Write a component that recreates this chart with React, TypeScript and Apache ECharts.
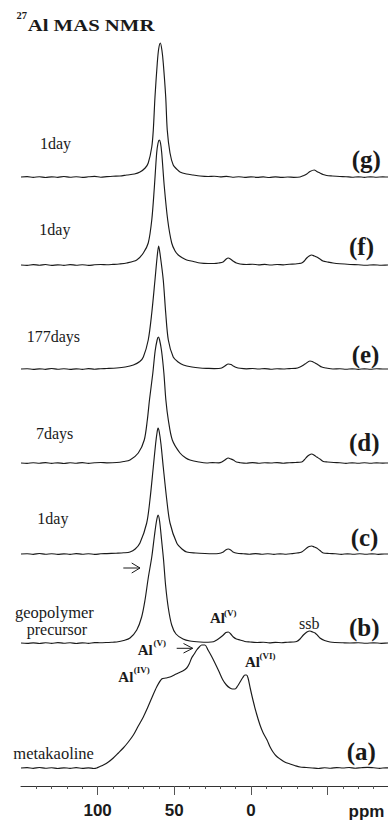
import React, { useEffect, useRef } from "react";
import * as echarts from "echarts";

// x axis (ppm)
const ppmMin = -100;
const ppmMax = 150;
const labelTicks = [100, 50, 0];
const majorTicks = [100, 50, 0, -50];

// vertical offsets of each trace (baseline level)
const offsets = { a: 18, b: 143, c: 232, d: 323, e: 417, f: 521, g: 609 };

// spectra: [ppm, intensity above own baseline]
const specG = [[150,0],[146,0.4],[142,-0.4],[138,0.3],[134,-0.5],[130,0.2],[126,-0.3],[122,0.5],[118,-0.2],[114,0.3],[110,-0.4],[106,0.2],[102,0.6],[98,-0.2],[94,0.4],[90,0.8],[85.4,1],[81,2],[76,3],[72.4,5],[69,9],[67,14],[64.7,30],[63.7,47],[62.6,80],[61.1,114],[60.2,128],[59.1,134],[58.1,127],[57.2,114],[55.6,80],[54.6,47],[52.8,24],[50.7,12],[48.5,8],[46.3,5],[42,3],[37.8,2],[33.2,1],[28,0.5],[24,0.8],[20,0.2],[16,0.6],[12,-0.2],[8,0.3],[4,-0.4],[0,0.2],[-4,-0.3],[-8,0.1],[-12,-0.5],[-16,0.2],[-20,-0.4],[-24,0],[-28,-0.3],[-32,0],[-34.5,1.5],[-36.4,3],[-38.5,5.5],[-41.3,7],[-43,5.5],[-45,4],[-47,2.5],[-49.4,1.5],[-53,1],[-58,0.5],[-62,0.3],[-66,-0.2],[-70,0.2],[-74,-0.3],[-78,0.2],[-82,-0.2],[-86,0.1],[-90,0],[-100,0]];

const specF = [[150,0],[146,-0.3],[142,0.4],[138,-0.2],[134,0.5],[130,-0.4],[126,0.2],[122,-0.3],[118,0.4],[114,-0.2],[110,0.3],[106,-0.4],[102,0.2],[98,0.5],[94,0.3],[90,0.6],[86,1],[81,2],[74.5,5],[70.2,12],[67,22],[64.7,45],[63,78],[61.5,112],[60.6,122],[59.8,125],[59,122],[58.2,112],[56.5,78],[54.3,45],[51.7,22],[49.5,14],[47.4,10],[44.5,7],[41.9,5],[37.5,3.5],[33.2,2],[28,1.5],[24,1.5],[21,2],[18.2,3],[16.5,5.5],[14.8,7],[13,5.5],[11.7,4],[9.5,2],[7.1,1],[3,0.5],[-1,0.8],[-5,0.2],[-9,0.6],[-13,0],[-17,0.5],[-21,0.2],[-25,0.8],[-29,1],[-31.5,1.5],[-33.1,2],[-34.8,4],[-36.4,7],[-38,9],[-39.6,10],[-41.3,9],[-42.9,8],[-45,6],[-47,4],[-50,3],[-53.5,2],[-58,1.2],[-64.6,0.5],[-70,0.2],[-75,-0.2],[-80,0.2],[-85,-0.2],[-90,0],[-100,0]];

const specE = [[150,0],[146,0.3],[142,-0.4],[138,0.2],[134,-0.3],[130,0.5],[126,-0.2],[122,0.3],[118,-0.4],[114,0.2],[110,-0.3],[106,0.4],[102,-0.2],[98,0.3],[94,0.5],[87.6,1],[82,2],[76.7,4],[72.5,7.5],[70.2,12],[67,29],[64.7,56],[62.6,89],[61.2,112],[60.2,123],[59.2,114],[57.2,89],[55.6,56],[53.9,29],[50.7,12],[47.5,7],[44.1,4],[38.5,2],[33.2,1],[28,0.6],[24,0.4],[21,0.5],[19.1,1],[17,3],[14.8,5],[13,4.5],[11.5,3],[9.5,1.5],[7.1,0.7],[3,0.2],[-1,0.5],[-5,0],[-9,0.4],[-13,-0.2],[-17,0.3],[-21,0],[-25,0.4],[-29,0.6],[-32,2],[-35.3,5],[-38.5,8],[-40,7.5],[-41.8,6],[-44,4],[-46.2,2],[-49,1],[-53.5,0],[-58,0.3],[-62,-0.2],[-66,0.2],[-70,-0.3],[-74,0.2],[-78,-0.2],[-82,0.3],[-86,0],[-90,0],[-100,0]];

const specD = [[150,0],[146,-0.4],[142,0.3],[138,-0.2],[134,0.4],[130,-0.3],[126,0.2],[122,-0.5],[118,0.3],[114,-0.2],[110,0.4],[106,-0.3],[102,0.2],[98,0.5],[94,0.2],[87.6,0.5],[83,1.5],[78.9,3],[73.5,10],[69.6,23],[67.6,43],[66.2,63],[64,90],[62.5,112],[61.2,123],[60.4,126],[59.6,123],[58.3,112],[56.8,90],[55.5,63],[53.9,43],[51.3,23],[46.3,10],[42.5,5],[39.8,3],[34,1],[28.9,0],[25,0.4],[21,0.2],[19,1],[17,3],[14.8,5],[13,4],[11.5,3],[9.5,1],[7,0.3],[3,-0.2],[-1,0.4],[-5,-0.2],[-9,0.3],[-13,0],[-17,0.4],[-21,-0.2],[-25,0.3],[-29,0.5],[-33.1,1],[-35,3.5],[-36.4,6],[-38,8],[-39.6,9],[-41.5,7.5],[-42.9,6],[-45,4],[-47.2,1.5],[-50,1],[-54,0.5],[-58,0.2],[-62,-0.3],[-66,0.2],[-70,-0.2],[-74,0.3],[-78,-0.2],[-82,0.2],[-86,-0.1],[-90,0],[-100,0]];

const specC = [[150,0],[146,0.3],[142,-0.3],[138,0.5],[134,-0.2],[130,0.3],[126,-0.4],[122,0.2],[118,-0.3],[114,0.4],[110,-0.2],[106,0.3],[102,-0.4],[98,0.2],[94,0.4],[88,0.8],[83,1.2],[78.9,2],[75.5,5],[72.4,11],[68,31],[65.9,54],[63.7,87],[62.2,110],[61.2,122],[60.6,126],[59.8,122],[58.7,110],[57.2,87],[54.9,54],[52.8,31],[48.4,11],[45,5],[41.9,2],[36,1],[30,0.5],[25,0.3],[21,0.5],[18,2],[16.5,4],[14.8,5],[13.2,4],[11.7,2],[9,0.8],[5,0.3],[1,-0.2],[-3,0.4],[-7,-0.2],[-11,0.3],[-15,-0.3],[-19,0.2],[-23,-0.2],[-27,0.4],[-30,1],[-33.1,2],[-36.4,6],[-38,7.5],[-39.6,8],[-41.3,7],[-42.9,6],[-45,3.5],[-47.2,1],[-51,0.5],[-55,0.2],[-59,-0.3],[-63,0.2],[-67,-0.2],[-71,0.3],[-75,-0.2],[-79,0.2],[-83,-0.3],[-87,0],[-100,0]];

const specB = [[150,0],[146,-0.4],[142,0.2],[138,-0.5],[134,0.3],[130,-0.3],[126,0.4],[122,-0.2],[118,0.3],[114,-0.5],[110,0.2],[106,-0.3],[102,0.4],[98.5,0.3],[94,0.5],[90,0.8],[87.6,1],[83,2.5],[78.9,5],[74.5,13],[71.3,26],[69.1,43],[67,65],[64.7,86],[62.9,108],[61.6,122],[60.6,128],[59.6,122],[58.3,103],[57,83],[55.7,58],[53.9,35],[51.7,18],[48.9,9],[44.3,4],[39.8,2],[33.2,1],[28,0.8],[24.5,1.2],[22.3,3],[20,5.5],[18,8],[16.3,10.5],[14.8,11],[13.2,9],[11.5,6],[9.5,4],[7.1,3],[4,1.5],[0.6,1],[-4,0.5],[-8,0.8],[-12,0.2],[-16,0.6],[-20,0.3],[-24,0.8],[-27.5,1],[-29.8,1.5],[-32,4],[-34.2,8],[-36.5,11],[-38.5,12],[-40.2,11],[-41.8,10],[-43.5,7.5],[-45,5],[-48,2.5],[-51.6,1],[-55,0.5],[-60,0.2],[-64.6,0],[-70,0.3],[-75,-0.2],[-80,0.2],[-85,-0.3],[-90,0],[-100,0]];

const specA = [[150,0],[146,0.4],[142,-0.3],[138,0.5],[134,-0.2],[130,0.3],[126,-0.5],[122,0.2],[118,-0.3],[114,0.4],[110,-0.4],[106,0.2],[102.5,-0.5],[100.6,0],[98.5,1.5],[96.3,3],[93,6],[89.8,10],[86.5,15],[83.3,20],[80,26],[76.7,33],[73.5,42],[70.2,51],[67.5,60],[64.7,70],[61.5,81],[58.2,89],[55.5,90],[52.8,91],[50,93],[47.4,95],[44.5,97],[41.9,100],[40.3,104],[38.7,110],[37,114],[35.4,118],[33.7,121],[32.1,123],[30,123],[28,118],[25.8,112],[23.5,105],[21,97],[18.3,88],[16,83],[13.7,80],[12,79],[10.4,79],[8.7,82],[7.1,86],[5.5,90],[3.9,93],[2.9,93],[1.9,90],[0.5,80],[-1.3,68],[-3.5,55],[-5.9,43],[-8,35],[-10.5,28],[-12.5,21],[-14.4,16],[-16.5,12],[-19,9],[-22,6],[-25.5,4],[-28.5,2.5],[-32,1],[-36,0.5],[-40,0],[-44,-0.5],[-48,0.3],[-52,-0.2],[-56,0.4],[-60,0],[-64,0.5],[-68,-0.2],[-72,0.3],[-76,0.6],[-80,0.2],[-84,-0.3],[-88,0.2],[-100,0]];

const traceKeys = ["a", "b", "c", "d", "e", "f", "g"];
const traceData = { a: specA, b: specB, c: specC, d: specD, e: specE, f: specF, g: specG };

// annotation texts
const sampleLabels = ["1day", "1day", "177days", "7days", "1day"];
const letterLabels = ["(g)", "(f)", "(e)", "(d)", "(c)", "(b)", "(a)"];

const SERIF = "Liberation Serif";
const SANS = "Liberation Sans";
const INK = "#1a1a1a";

function txt(text: string, x: number, y: number, size: number, bold: boolean, family: string, extra: any = {}) {
  return {
    type: "text",
    x,
    y,
    silent: true,
    ...extra,
    style: {
      text,
      fill: INK,
      fontFamily: family,
      fontSize: size,
      fontWeight: bold ? "bold" : "normal",
      align: "left",
      verticalAlign: "middle",
    },
  };
}

export default function App() {
  const ref = useRef<HTMLDivElement>(null);
  useEffect(() => {
    if (!ref.current) return;
    const chart = echarts.init(ref.current, null, { renderer: "svg" });

    const series = traceKeys.map((k) => ({
      type: "line",
      name: k,
      data: (traceData as any)[k].map((p: number[]) => [p[0], p[1] + (offsets as any)[k]]),
      showSymbol: false,
      smooth: 0.3,
      lineStyle: { color: INK, width: 1.15 },
      silent: true,
    }));

    const sampleY = [143.9, 229.6, 336.9, 433.9, 518.6];
    const sampleX = [40, 39.3, 26.7, 36, 37.3];
    const letterY = [159.5, 246, 354, 442, 537, 627, 751];
    const letterX = [351.7, 349, 351.7, 349, 350.7, 349, 346.7];

    const graphics: any[] = [
      txt("27", 16.5, 15.3, 10.5, true, SERIF),
      txt("Al MAS NMR", 27.7, 25, 17, true, SERIF, { scaleX: 1.22 }),
      txt("geopolymer", 15, 612.8, 16.5, false, SERIF),
      txt("precursor", 26.7, 629.2, 16, false, SERIF),
      txt("metakaoline", 13.3, 753.4, 16.5, false, SERIF),
      txt("ssb", 299, 623.9, 16, false, SERIF),
      txt("Al", 210, 618, 15, true, SERIF),
      txt("(V)", 224, 613, 9, true, SERIF),
      txt("Al", 137.7, 650, 15, true, SERIF),
      txt("(V)", 153.5, 643, 9, true, SERIF),
      txt("Al", 118.3, 676.7, 15, true, SERIF),
      txt("(IV)", 133.8, 669.5, 9, true, SERIF),
      txt("Al", 245, 661.7, 15, true, SERIF),
      txt("(VI)", 259.5, 656, 9, true, SERIF),
      txt("ppm", 348.5, 811, 17, true, SANS),
      {
        type: "polyline",
        silent: true,
        shape: { points: [[123.3, 568], [140, 568]] },
        style: { stroke: INK, lineWidth: 1, fill: "none" },
      },
      {
        type: "polyline",
        silent: true,
        shape: { points: [[131.7, 563], [140, 568], [131.7, 573]] },
        style: { stroke: INK, lineWidth: 1, fill: "none" },
      },
      {
        type: "polyline",
        silent: true,
        shape: { points: [[176.7, 648.3], [192.7, 648.3]] },
        style: { stroke: INK, lineWidth: 1, fill: "none" },
      },
      {
        type: "polyline",
        silent: true,
        shape: { points: [[183.5, 643.5], [192.7, 648.3], [183.5, 653]] },
        style: { stroke: INK, lineWidth: 1, fill: "none" },
      },
    ];
    sampleLabels.forEach((t, i) => graphics.push(txt(t, sampleX[i], sampleY[i], 16, false, SERIF)));
    letterLabels.forEach((t, i) => graphics.push(txt(t, letterX[i], letterY[i], 25, true, SERIF)));

    chart.setOption({
      animation: false,
      backgroundColor: "#ffffff",
      grid: { left: 21, top: 0, width: 383.25, height: 786, containLabel: false, outerBoundsMode: "none" },
      xAxis: {
        type: "value",
        min: ppmMin,
        max: ppmMax,
        interval: 50,
        inverse: true,
        axisLine: { show: true, onZero: false, lineStyle: { color: "#333", width: 1 } },
        axisTick: { show: true, length: 9, customValues: majorTicks, lineStyle: { color: "#555", width: 1 } },
        minorTick: { show: true, splitNumber: 5, length: 3, lineStyle: { color: "#555", width: 1 } },
        splitLine: { show: false },
        minorSplitLine: { show: false },
        axisLabel: {
          customValues: labelTicks,
          margin: 16,
          color: INK,
          fontFamily: SANS,
          fontWeight: "bold",
          fontSize: 17,
        },
      },
      yAxis: { type: "value", min: 0, max: 786, show: false },
      series,
      graphic: graphics,
    });
    return () => chart.dispose();
  }, []);

  return (
    <div style={{ position: "absolute", left: 0, top: 0, width: 388, height: 824, overflow: "hidden", background: "#fff" }}>
      <div ref={ref} style={{ width: 405, height: 824 }} />
    </div>
  );
}
